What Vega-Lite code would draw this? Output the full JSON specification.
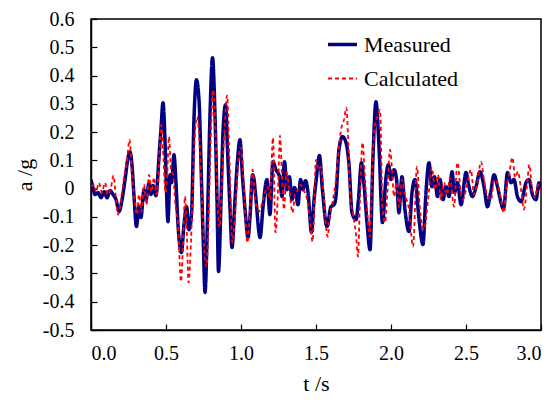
{
  "$schema": "https://vega.github.io/schema/vega-lite/v6.json",
  "width": 450,
  "height": 311,
  "autosize": {"type": "none"},
  "padding": {"left": 91, "top": 19, "right": 13, "bottom": 73},
  "background": "white",
  "config": {
    "view": {"stroke": "#000", "strokeWidth": 1.5},
    "font": "Liberation Serif",
    "axis": {
      "grid": false,
      "domainColor": "#000",
      "domainWidth": 1.5,
      "tickColor": "#000",
      "tickWidth": 1.2,
      "tickSize": -6,
      "labelFont": "Liberation Serif",
      "labelFontSize": 20,
      "labelColor": "#000",
      "titleFont": "Liberation Serif",
      "titleFontSize": 22,
      "titleFontWeight": "normal",
      "titleColor": "#000"
    },
    "legend": {
      "labelFont": "Liberation Serif",
      "labelFontSize": 22,
      "labelColor": "#000"
    }
  },
  "datasets": {
    "measured": [
      {"t":0.000,"a":0.032,"s":"Measured"},{"t":0.013,"a":0.004,"s":"Measured"},{"t":0.027,"a":-0.021,"s":"Measured"},{"t":0.047,"a":-0.014,"s":"Measured"},{"t":0.067,"a":-0.032,"s":"Measured"},{"t":0.087,"a":-0.011,"s":"Measured"},{"t":0.107,"a":-0.032,"s":"Measured"},{"t":0.127,"a":-0.007,"s":"Measured"},{"t":0.147,"a":-0.021,"s":"Measured"},{"t":0.167,"a":-0.039,"s":"Measured"},{"t":0.187,"a":-0.081,"s":"Measured"},{"t":0.207,"a":-0.039,"s":"Measured"},{"t":0.227,"a":0.032,"s":"Measured"},{"t":0.247,"a":0.11,"s":"Measured"},{"t":0.26,"a":0.13,"s":"Measured"},{"t":0.273,"a":0.085,"s":"Measured"},{"t":0.287,"a":-0.028,"s":"Measured"},{"t":0.303,"a":-0.134,"s":"Measured"},{"t":0.32,"a":-0.064,"s":"Measured"},{"t":0.333,"a":-0.102,"s":"Measured"},{"t":0.353,"a":-0.004,"s":"Measured"},{"t":0.367,"a":-0.039,"s":"Measured"},{"t":0.387,"a":0.021,"s":"Measured"},{"t":0.4,"a":-0.021,"s":"Measured"},{"t":0.413,"a":0.011,"s":"Measured"},{"t":0.433,"a":-0.025,"s":"Measured"},{"t":0.453,"a":0.11,"s":"Measured"},{"t":0.467,"a":0.216,"s":"Measured"},{"t":0.48,"a":0.304,"s":"Measured"},{"t":0.493,"a":0.173,"s":"Measured"},{"t":0.503,"a":-0.004,"s":"Measured"},{"t":0.513,"a":-0.117,"s":"Measured"},{"t":0.527,"a":0.049,"s":"Measured"},{"t":0.537,"a":0.021,"s":"Measured"},{"t":0.553,"a":0.12,"s":"Measured"},{"t":0.567,"a":0.014,"s":"Measured"},{"t":0.58,"a":-0.127,"s":"Measured"},{"t":0.603,"a":-0.226,"s":"Measured"},{"t":0.62,"a":-0.127,"s":"Measured"},{"t":0.637,"a":-0.064,"s":"Measured"},{"t":0.653,"a":-0.145,"s":"Measured"},{"t":0.67,"a":-0.092,"s":"Measured"},{"t":0.687,"a":0.254,"s":"Measured"},{"t":0.703,"a":0.385,"s":"Measured"},{"t":0.72,"a":0.314,"s":"Measured"},{"t":0.737,"a":0.021,"s":"Measured"},{"t":0.75,"a":-0.216,"s":"Measured"},{"t":0.76,"a":-0.367,"s":"Measured"},{"t":0.777,"a":-0.099,"s":"Measured"},{"t":0.793,"a":0.254,"s":"Measured"},{"t":0.81,"a":0.463,"s":"Measured"},{"t":0.827,"a":0.254,"s":"Measured"},{"t":0.84,"a":-0.039,"s":"Measured"},{"t":0.85,"a":-0.293,"s":"Measured"},{"t":0.867,"a":-0.039,"s":"Measured"},{"t":0.88,"a":0.198,"s":"Measured"},{"t":0.897,"a":0.297,"s":"Measured"},{"t":0.91,"a":0.138,"s":"Measured"},{"t":0.927,"a":-0.074,"s":"Measured"},{"t":0.94,"a":-0.208,"s":"Measured"},{"t":0.96,"a":-0.039,"s":"Measured"},{"t":0.977,"a":0.102,"s":"Measured"},{"t":0.993,"a":0.173,"s":"Measured"},{"t":1.01,"a":0.042,"s":"Measured"},{"t":1.027,"a":-0.074,"s":"Measured"},{"t":1.047,"a":-0.173,"s":"Measured"},{"t":1.06,"a":-0.099,"s":"Measured"},{"t":1.077,"a":0.049,"s":"Measured"},{"t":1.087,"a":0.032,"s":"Measured"},{"t":1.1,"a":-0.039,"s":"Measured"},{"t":1.127,"a":-0.173,"s":"Measured"},{"t":1.147,"a":-0.064,"s":"Measured"},{"t":1.173,"a":0.032,"s":"Measured"},{"t":1.193,"a":-0.092,"s":"Measured"},{"t":1.213,"a":0.095,"s":"Measured"},{"t":1.233,"a":0.067,"s":"Measured"},{"t":1.257,"a":0.042,"s":"Measured"},{"t":1.273,"a":-0.028,"s":"Measured"},{"t":1.29,"a":0.095,"s":"Measured"},{"t":1.307,"a":-0.004,"s":"Measured"},{"t":1.323,"a":0.042,"s":"Measured"},{"t":1.34,"a":-0.039,"s":"Measured"},{"t":1.357,"a":0.004,"s":"Measured"},{"t":1.38,"a":-0.057,"s":"Measured"},{"t":1.397,"a":0.032,"s":"Measured"},{"t":1.413,"a":-0.004,"s":"Measured"},{"t":1.43,"a":0.028,"s":"Measured"},{"t":1.447,"a":-0.014,"s":"Measured"},{"t":1.47,"a":-0.155,"s":"Measured"},{"t":1.487,"a":-0.039,"s":"Measured"},{"t":1.503,"a":0.039,"s":"Measured"},{"t":1.523,"a":0.117,"s":"Measured"},{"t":1.543,"a":-0.004,"s":"Measured"},{"t":1.573,"a":-0.134,"s":"Measured"},{"t":1.6,"a":-0.064,"s":"Measured"},{"t":1.62,"a":-0.057,"s":"Measured"},{"t":1.633,"a":-0.028,"s":"Measured"},{"t":1.653,"a":0.138,"s":"Measured"},{"t":1.677,"a":0.184,"s":"Measured"},{"t":1.7,"a":0.163,"s":"Measured"},{"t":1.72,"a":0.085,"s":"Measured"},{"t":1.74,"a":-0.085,"s":"Measured"},{"t":1.767,"a":-0.11,"s":"Measured"},{"t":1.783,"a":-0.039,"s":"Measured"},{"t":1.803,"a":0.092,"s":"Measured"},{"t":1.82,"a":0.014,"s":"Measured"},{"t":1.84,"a":-0.12,"s":"Measured"},{"t":1.86,"a":-0.216,"s":"Measured"},{"t":1.88,"a":0.113,"s":"Measured"},{"t":1.9,"a":0.307,"s":"Measured"},{"t":1.92,"a":0.148,"s":"Measured"},{"t":1.943,"a":-0.12,"s":"Measured"},{"t":1.967,"a":0.042,"s":"Measured"},{"t":1.983,"a":0.085,"s":"Measured"},{"t":2.0,"a":0.032,"s":"Measured"},{"t":2.02,"a":0.067,"s":"Measured"},{"t":2.037,"a":0.032,"s":"Measured"},{"t":2.053,"a":-0.085,"s":"Measured"},{"t":2.073,"a":0.042,"s":"Measured"},{"t":2.093,"a":-0.074,"s":"Measured"},{"t":2.12,"a":-0.152,"s":"Measured"},{"t":2.14,"a":-0.014,"s":"Measured"},{"t":2.16,"a":0.032,"s":"Measured"},{"t":2.187,"a":-0.11,"s":"Measured"},{"t":2.213,"a":-0.198,"s":"Measured"},{"t":2.233,"a":-0.014,"s":"Measured"},{"t":2.253,"a":0.092,"s":"Measured"},{"t":2.273,"a":0.007,"s":"Measured"},{"t":2.29,"a":0.042,"s":"Measured"},{"t":2.31,"a":-0.028,"s":"Measured"},{"t":2.327,"a":0.032,"s":"Measured"},{"t":2.347,"a":-0.039,"s":"Measured"},{"t":2.367,"a":0.007,"s":"Measured"},{"t":2.387,"a":-0.028,"s":"Measured"},{"t":2.407,"a":0.06,"s":"Measured"},{"t":2.423,"a":-0.014,"s":"Measured"},{"t":2.443,"a":0.021,"s":"Measured"},{"t":2.467,"a":-0.057,"s":"Measured"},{"t":2.5,"a":0.057,"s":"Measured"},{"t":2.52,"a":0.007,"s":"Measured"},{"t":2.543,"a":-0.028,"s":"Measured"},{"t":2.567,"a":0.007,"s":"Measured"},{"t":2.593,"a":0.06,"s":"Measured"},{"t":2.62,"a":0.007,"s":"Measured"},{"t":2.643,"a":-0.064,"s":"Measured"},{"t":2.667,"a":-0.004,"s":"Measured"},{"t":2.687,"a":0.049,"s":"Measured"},{"t":2.71,"a":0.007,"s":"Measured"},{"t":2.733,"a":-0.049,"s":"Measured"},{"t":2.75,"a":-0.074,"s":"Measured"},{"t":2.777,"a":0.057,"s":"Measured"},{"t":2.8,"a":0.021,"s":"Measured"},{"t":2.82,"a":0.032,"s":"Measured"},{"t":2.843,"a":-0.028,"s":"Measured"},{"t":2.867,"a":-0.046,"s":"Measured"},{"t":2.9,"a":0.021,"s":"Measured"},{"t":2.92,"a":0.032,"s":"Measured"},{"t":2.943,"a":-0.021,"s":"Measured"},{"t":2.967,"a":-0.039,"s":"Measured"},{"t":2.987,"a":0.021,"s":"Measured"},{"t":3.0,"a":-0.004,"s":"Measured"}
    ],
    "calculated": [
      {"t":0.0,"a":0.007,"s":"Calculated"},{"t":0.02,"a":0.014,"s":"Calculated"},{"t":0.033,"a":-0.011,"s":"Calculated"},{"t":0.053,"a":0.021,"s":"Calculated"},{"t":0.073,"a":-0.014,"s":"Calculated"},{"t":0.093,"a":0.021,"s":"Calculated"},{"t":0.113,"a":-0.021,"s":"Calculated"},{"t":0.133,"a":0.004,"s":"Calculated"},{"t":0.15,"a":0.046,"s":"Calculated"},{"t":0.167,"a":-0.039,"s":"Calculated"},{"t":0.18,"a":-0.092,"s":"Calculated"},{"t":0.2,"a":-0.039,"s":"Calculated"},{"t":0.22,"a":0.039,"s":"Calculated"},{"t":0.24,"a":0.102,"s":"Calculated"},{"t":0.257,"a":0.173,"s":"Calculated"},{"t":0.273,"a":0.06,"s":"Calculated"},{"t":0.29,"a":-0.039,"s":"Calculated"},{"t":0.307,"a":-0.092,"s":"Calculated"},{"t":0.32,"a":-0.021,"s":"Calculated"},{"t":0.337,"a":-0.081,"s":"Calculated"},{"t":0.353,"a":0.014,"s":"Calculated"},{"t":0.37,"a":-0.057,"s":"Calculated"},{"t":0.387,"a":0.049,"s":"Calculated"},{"t":0.403,"a":-0.011,"s":"Calculated"},{"t":0.42,"a":0.039,"s":"Calculated"},{"t":0.437,"a":-0.021,"s":"Calculated"},{"t":0.453,"a":0.085,"s":"Calculated"},{"t":0.467,"a":0.226,"s":"Calculated"},{"t":0.48,"a":0.138,"s":"Calculated"},{"t":0.497,"a":-0.014,"s":"Calculated"},{"t":0.507,"a":0.039,"s":"Calculated"},{"t":0.52,"a":0.184,"s":"Calculated"},{"t":0.533,"a":0.067,"s":"Calculated"},{"t":0.547,"a":0.049,"s":"Calculated"},{"t":0.563,"a":-0.057,"s":"Calculated"},{"t":0.58,"a":-0.127,"s":"Calculated"},{"t":0.6,"a":-0.329,"s":"Calculated"},{"t":0.613,"a":-0.198,"s":"Calculated"},{"t":0.627,"a":-0.028,"s":"Calculated"},{"t":0.64,"a":-0.18,"s":"Calculated"},{"t":0.65,"a":-0.332,"s":"Calculated"},{"t":0.667,"a":-0.18,"s":"Calculated"},{"t":0.687,"a":0.138,"s":"Calculated"},{"t":0.707,"a":0.254,"s":"Calculated"},{"t":0.723,"a":0.173,"s":"Calculated"},{"t":0.74,"a":-0.039,"s":"Calculated"},{"t":0.753,"a":-0.198,"s":"Calculated"},{"t":0.77,"a":-0.276,"s":"Calculated"},{"t":0.787,"a":-0.039,"s":"Calculated"},{"t":0.8,"a":0.208,"s":"Calculated"},{"t":0.813,"a":0.35,"s":"Calculated"},{"t":0.83,"a":0.208,"s":"Calculated"},{"t":0.843,"a":-0.039,"s":"Calculated"},{"t":0.857,"a":-0.138,"s":"Calculated"},{"t":0.873,"a":0.032,"s":"Calculated"},{"t":0.89,"a":0.208,"s":"Calculated"},{"t":0.907,"a":0.329,"s":"Calculated"},{"t":0.923,"a":0.102,"s":"Calculated"},{"t":0.943,"a":-0.191,"s":"Calculated"},{"t":0.96,"a":-0.092,"s":"Calculated"},{"t":0.98,"a":0.085,"s":"Calculated"},{"t":1.0,"a":0.145,"s":"Calculated"},{"t":1.02,"a":-0.004,"s":"Calculated"},{"t":1.043,"a":-0.191,"s":"Calculated"},{"t":1.06,"a":-0.074,"s":"Calculated"},{"t":1.077,"a":0.067,"s":"Calculated"},{"t":1.097,"a":-0.049,"s":"Calculated"},{"t":1.12,"a":-0.081,"s":"Calculated"},{"t":1.147,"a":-0.039,"s":"Calculated"},{"t":1.177,"a":0.007,"s":"Calculated"},{"t":1.193,"a":-0.039,"s":"Calculated"},{"t":1.213,"a":0.18,"s":"Calculated"},{"t":1.23,"a":-0.155,"s":"Calculated"},{"t":1.247,"a":-0.004,"s":"Calculated"},{"t":1.26,"a":0.187,"s":"Calculated"},{"t":1.273,"a":0.049,"s":"Calculated"},{"t":1.287,"a":-0.074,"s":"Calculated"},{"t":1.303,"a":0.057,"s":"Calculated"},{"t":1.323,"a":-0.004,"s":"Calculated"},{"t":1.343,"a":-0.085,"s":"Calculated"},{"t":1.36,"a":-0.021,"s":"Calculated"},{"t":1.38,"a":-0.004,"s":"Calculated"},{"t":1.397,"a":0.014,"s":"Calculated"},{"t":1.413,"a":-0.004,"s":"Calculated"},{"t":1.433,"a":-0.021,"s":"Calculated"},{"t":1.453,"a":-0.081,"s":"Calculated"},{"t":1.477,"a":-0.187,"s":"Calculated"},{"t":1.5,"a":0.102,"s":"Calculated"},{"t":1.517,"a":0.067,"s":"Calculated"},{"t":1.533,"a":0.078,"s":"Calculated"},{"t":1.553,"a":-0.039,"s":"Calculated"},{"t":1.577,"a":-0.17,"s":"Calculated"},{"t":1.593,"a":-0.092,"s":"Calculated"},{"t":1.613,"a":-0.039,"s":"Calculated"},{"t":1.633,"a":0.032,"s":"Calculated"},{"t":1.647,"a":0.113,"s":"Calculated"},{"t":1.667,"a":0.208,"s":"Calculated"},{"t":1.687,"a":0.244,"s":"Calculated"},{"t":1.703,"a":0.286,"s":"Calculated"},{"t":1.713,"a":0.191,"s":"Calculated"},{"t":1.73,"a":-0.039,"s":"Calculated"},{"t":1.747,"a":-0.092,"s":"Calculated"},{"t":1.767,"a":-0.163,"s":"Calculated"},{"t":1.78,"a":-0.24,"s":"Calculated"},{"t":1.793,"a":-0.039,"s":"Calculated"},{"t":1.81,"a":0.163,"s":"Calculated"},{"t":1.827,"a":0.032,"s":"Calculated"},{"t":1.84,"a":-0.074,"s":"Calculated"},{"t":1.86,"a":-0.17,"s":"Calculated"},{"t":1.873,"a":0.032,"s":"Calculated"},{"t":1.89,"a":0.219,"s":"Calculated"},{"t":1.91,"a":0.254,"s":"Calculated"},{"t":1.927,"a":0.279,"s":"Calculated"},{"t":1.943,"a":-0.064,"s":"Calculated"},{"t":1.96,"a":-0.12,"s":"Calculated"},{"t":1.977,"a":-0.004,"s":"Calculated"},{"t":1.993,"a":0.138,"s":"Calculated"},{"t":2.007,"a":0.067,"s":"Calculated"},{"t":2.02,"a":-0.028,"s":"Calculated"},{"t":2.037,"a":0.021,"s":"Calculated"},{"t":2.053,"a":-0.064,"s":"Calculated"},{"t":2.073,"a":0.032,"s":"Calculated"},{"t":2.093,"a":-0.021,"s":"Calculated"},{"t":2.12,"a":-0.074,"s":"Calculated"},{"t":2.147,"a":-0.205,"s":"Calculated"},{"t":2.173,"a":0.078,"s":"Calculated"},{"t":2.193,"a":-0.074,"s":"Calculated"},{"t":2.22,"a":-0.145,"s":"Calculated"},{"t":2.247,"a":-0.039,"s":"Calculated"},{"t":2.273,"a":0.074,"s":"Calculated"},{"t":2.293,"a":-0.004,"s":"Calculated"},{"t":2.313,"a":0.049,"s":"Calculated"},{"t":2.333,"a":-0.039,"s":"Calculated"},{"t":2.353,"a":0.021,"s":"Calculated"},{"t":2.373,"a":-0.021,"s":"Calculated"},{"t":2.393,"a":0.039,"s":"Calculated"},{"t":2.42,"a":-0.064,"s":"Calculated"},{"t":2.443,"a":0.092,"s":"Calculated"},{"t":2.467,"a":-0.021,"s":"Calculated"},{"t":2.48,"a":-0.039,"s":"Calculated"},{"t":2.5,"a":-0.004,"s":"Calculated"},{"t":2.533,"a":0.067,"s":"Calculated"},{"t":2.553,"a":-0.021,"s":"Calculated"},{"t":2.573,"a":0.014,"s":"Calculated"},{"t":2.6,"a":0.095,"s":"Calculated"},{"t":2.62,"a":0.032,"s":"Calculated"},{"t":2.64,"a":-0.021,"s":"Calculated"},{"t":2.667,"a":-0.039,"s":"Calculated"},{"t":2.687,"a":0.032,"s":"Calculated"},{"t":2.707,"a":0.021,"s":"Calculated"},{"t":2.727,"a":-0.021,"s":"Calculated"},{"t":2.753,"a":-0.085,"s":"Calculated"},{"t":2.767,"a":-0.004,"s":"Calculated"},{"t":2.787,"a":0.049,"s":"Calculated"},{"t":2.81,"a":0.11,"s":"Calculated"},{"t":2.827,"a":0.039,"s":"Calculated"},{"t":2.847,"a":0.06,"s":"Calculated"},{"t":2.867,"a":-0.004,"s":"Calculated"},{"t":2.887,"a":-0.074,"s":"Calculated"},{"t":2.907,"a":0.014,"s":"Calculated"},{"t":2.923,"a":0.085,"s":"Calculated"},{"t":2.94,"a":-0.004,"s":"Calculated"},{"t":2.96,"a":-0.032,"s":"Calculated"},{"t":2.98,"a":0.014,"s":"Calculated"},{"t":3.0,"a":-0.004,"s":"Calculated"}
    ]
  },
  "encoding": {
    "x": {
      "field": "t", "type": "quantitative",
      "scale": {"domain": [0, 3], "nice": false, "zero": false},
      "axis": {"title": "t /s", "values": [0, 0.5, 1, 1.5, 2, 2.5, 3], "format": ".1f", "labelPadding": 19, "titlePadding": 10}
    },
    "y": {
      "field": "a", "type": "quantitative",
      "scale": {"domain": [-0.5, 0.6], "nice": false, "zero": false},
      "axis": {
        "title": "a /g",
        "values": [-0.5, -0.4, -0.3, -0.2, -0.1, 0, 0.1, 0.2, 0.3, 0.4, 0.5, 0.6],
        "labelExpr": "abs(datum.value) < 1e-9 ? '0' : (datum.value < 0 ? '-' + format(-datum.value, '.1f') : format(datum.value, '.1f'))",
        "labelPadding": 23,
        "titlePadding": 6
      }
    },
    "color": {
      "field": "s", "type": "nominal",
      "scale": {"domain": ["Measured", "Calculated"], "range": ["#000080", "#ff0000"]},
      "legend": {
        "title": null, "orient": "none", "legendX": 235, "legendY": 9,
        "symbolType": "stroke", "symbolSize": 841, "labelOffset": 5, "rowPadding": 7
      }
    },
    "strokeDash": {
      "field": "s", "type": "nominal",
      "scale": {"domain": ["Measured", "Calculated"], "range": [[1, 0], [4, 3]]},
      "legend": {
        "title": null, "orient": "none", "legendX": 235, "legendY": 9,
        "symbolType": "stroke", "symbolSize": 841, "labelOffset": 5, "rowPadding": 7
      }
    },
    "strokeWidth": {
      "field": "s", "type": "nominal",
      "scale": {"domain": ["Measured", "Calculated"], "range": [3.5, 1.8]},
      "legend": {
        "title": null, "orient": "none", "legendX": 235, "legendY": 9,
        "symbolType": "stroke", "symbolSize": 841, "labelOffset": 5, "rowPadding": 7
      }
    }
  },
  "layer": [
    {"data": {"name": "measured"}, "mark": {"type": "line", "interpolate": "monotone", "clip": true}},
    {"data": {"name": "calculated"}, "mark": {"type": "line", "interpolate": "monotone", "clip": true}}
  ]
}
